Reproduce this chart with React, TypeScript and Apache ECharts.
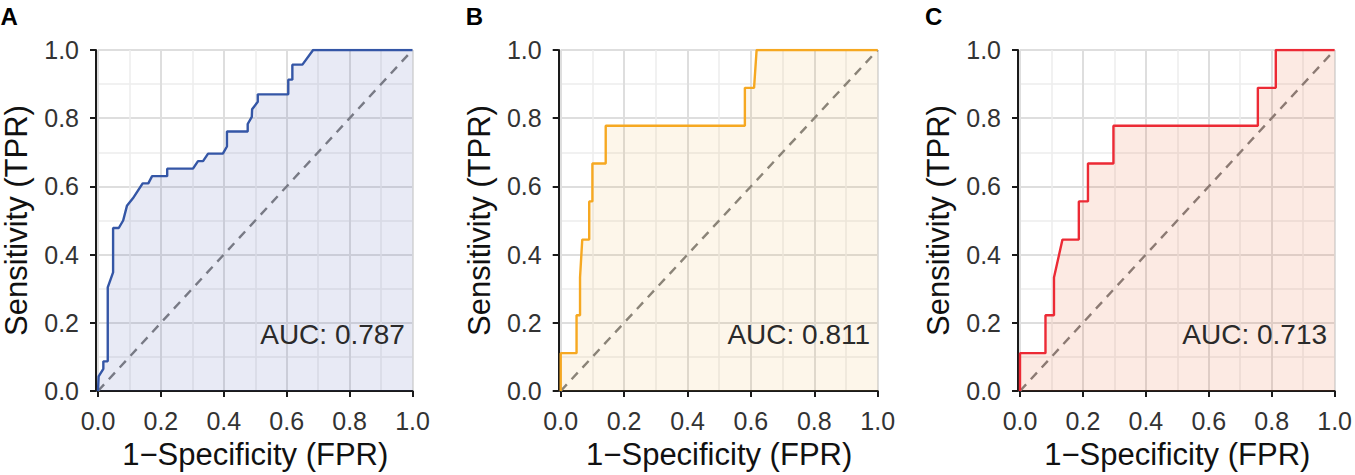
import React, { useEffect, useRef } from "react";
import * as echarts from "echarts";

const panelLabels = ["A", "B", "C"];
const aucTexts = ["AUC: 0.787", "AUC: 0.811", "AUC: 0.713"];
const lineColors = ["#3456a6", "#f6a821", "#ec2a35"];
const fillColors = ["rgba(63,80,172,0.12)", "rgba(235,165,45,0.1)", "rgba(230,80,22,0.12)"];

const fprA = [0, 0.002, 0.017, 0.017, 0.031, 0.031, 0.048, 0.048, 0.066, 0.08, 0.092, 0.111, 0.142, 0.16, 0.172, 0.22, 0.22, 0.302, 0.318, 0.334, 0.35, 0.397, 0.41, 0.41, 0.476, 0.476, 0.489, 0.49, 0.508, 0.508, 0.605, 0.605, 0.618, 0.618, 0.65, 0.684, 1.0];
const tprA = [0, 0.043, 0.065, 0.087, 0.087, 0.304, 0.348, 0.478, 0.478, 0.5, 0.543, 0.565, 0.609, 0.609, 0.63, 0.63, 0.652, 0.652, 0.674, 0.674, 0.696, 0.696, 0.717, 0.761, 0.761, 0.783, 0.804, 0.826, 0.848, 0.87, 0.87, 0.913, 0.913, 0.957, 0.957, 1.0, 1.0];

const fprB = [0, 0, 0.05, 0.05, 0.061, 0.061, 0.068, 0.09, 0.09, 0.1, 0.1, 0.142, 0.142, 0.581, 0.581, 0.61, 0.618, 1.0];
const tprB = [0, 0.111, 0.111, 0.222, 0.222, 0.333, 0.444, 0.444, 0.556, 0.556, 0.667, 0.667, 0.778, 0.778, 0.889, 0.889, 1.0, 1.0];

const fprC = [0, 0, 0.081, 0.081, 0.108, 0.108, 0.135, 0.187, 0.187, 0.216, 0.216, 0.297, 0.297, 0.756, 0.756, 0.813, 0.813, 1.0];
const tprC = [0, 0.111, 0.111, 0.222, 0.222, 0.333, 0.444, 0.444, 0.556, 0.556, 0.667, 0.667, 0.778, 0.778, 0.889, 0.889, 1.0, 1.0];

const chanceLine = [0, 1];
const aucPos = [0.976, 0.165];

const curves = [
  [fprA, tprA],
  [fprB, tprB],
  [fprC, tprC],
];

const gridLefts = [95.5, 560.7, 1020];
const gridTop = 50;
const gridW = 317;
const gridH = 345;
const FONT = "'Liberation Sans', Arial, Helvetica, sans-serif";

export default function App() {
  const ref = useRef<HTMLDivElement>(null);
  useEffect(() => {
    document.body.style.margin = "0";
    const chart = echarts.init(ref.current!, null, { renderer: "svg" });
    const grids: any[] = [];
    const xAxes: any[] = [];
    const yAxes: any[] = [];
    const series: any[] = [];
    const graphics: any[] = [];
    curves.forEach(([fpr, tpr], i) => {
      grids.push({ left: gridLefts[i], top: gridTop, width: gridW, height: gridH, containLabel: false });
      const common = {
        gridIndex: i,
        type: "value",
        min: 0,
        max: 1,
        interval: 0.2,
        axisLine: { show: true, lineStyle: { color: "#1a1a1a", width: 2 } },
        axisTick: { show: true, length: 6, lineStyle: { color: "#1a1a1a", width: 2 } },
        splitLine: { show: true, lineStyle: { color: "#dedede", width: 2 } },
        minorTick: { show: false, splitNumber: 2 },
        minorSplitLine: { show: true, lineStyle: { color: "#ececec", width: 1.5 } },
        nameLocation: "middle",
        nameTextStyle: { fontSize: 31, color: "#111", fontFamily: FONT },
      };
      xAxes.push({
        ...common,
        name: "1\u2212Specificity (FPR)",
        nameGap: 48,
        axisLine: { ...common.axisLine, onZero: false },
        axisLabel: { fontSize: 25, color: "#333", margin: 17, fontFamily: FONT, formatter: (v: number) => v.toFixed(1) },
      });
      yAxes.push({
        ...common,
        name: "Sensitivity (TPR)",
        nameGap: 64,
        offset: 2,
        axisLine: { ...common.axisLine, onZero: false },
        axisLabel: { fontSize: 25, color: "#333", margin: 17, fontFamily: FONT, formatter: (v: number) => v.toFixed(1) },
      });
      series.push({
        type: "line",
        xAxisIndex: i,
        yAxisIndex: i,
        data: chanceLine.map((v) => [v, v]),
        symbol: "none",
        silent: true,
        z: 2,
        lineStyle: { color: "#808080", width: 2.4, type: [9, 7] },
      });
      series.push({
        type: "line",
        xAxisIndex: i,
        yAxisIndex: i,
        data: fpr.map((x, k) => [x, tpr[k]]),
        symbol: "none",
        z: 3,
        lineStyle: { color: lineColors[i], width: 2.4 },
        areaStyle: { color: fillColors[i], opacity: 1, origin: "start" },
        markPoint: {
          symbol: "circle",
          symbolSize: 0,
          silent: true,
          data: [{ coord: aucPos }],
          label: {
            show: true,
            position: "left",
            distance: 0,
            formatter: aucTexts[i],
            fontSize: 28,
            color: "#2a2a2a",
            fontFamily: FONT,
          },
        },
      });
      graphics.push({
        type: "text",
        left: gridLefts[i] - 95,
        top: 4,
        style: { text: panelLabels[i], fontSize: 24, fontWeight: "bold", fill: "#000", fontFamily: FONT },
      });
    });
    chart.setOption({
      animation: false,
      backgroundColor: "#ffffff",
      textStyle: { fontFamily: FONT },
      grid: grids,
      xAxis: xAxes,
      yAxis: yAxes,
      series,
      graphic: graphics,
    });
    return () => chart.dispose();
  }, []);
  return <div ref={ref} style={{ width: 1355, height: 475 }} />;
}
